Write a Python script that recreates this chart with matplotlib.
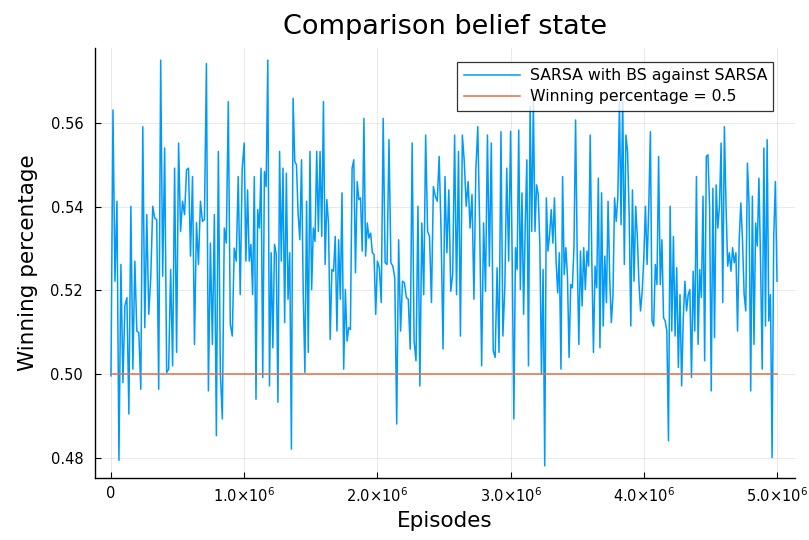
import numpy as np
import matplotlib
matplotlib.use("Agg")
import matplotlib.pyplot as plt

title = "Comparison belief state"
xlabel = "Episodes"
ylabel = "Winning percentage"
series_label = "SARSA with BS against SARSA"
ref_label = "Winning percentage = 0.5"
ref_value = 0.5

# winning percentage, read per million episodes
win_pct_0 = [
    0.4996, 0.5631, 0.5222, 0.5413, 0.4794, 0.5262, 0.4980, 0.5163, 0.5183, 0.4905,
    0.5401, 0.5012, 0.5270, 0.5103, 0.5099, 0.4964, 0.5591, 0.5111, 0.5381, 0.5143,
    0.5230, 0.5401, 0.5373, 0.5369, 0.4964, 0.5750, 0.5234, 0.5540, 0.5004, 0.5012,
    0.5250, 0.5020, 0.5492, 0.5052, 0.5552, 0.5341, 0.5413, 0.5381, 0.5488, 0.5492,
    0.5282, 0.5472, 0.5071, 0.5362, 0.5262, 0.5413, 0.5365, 0.5369, 0.5742, 0.4960,
    0.5313, 0.5071, 0.5381, 0.4853, 0.5532, 0.5004, 0.4893, 0.5349, 0.5313, 0.5651,
    0.5119, 0.5091, 0.5301, 0.5270, 0.5472, 0.5190, 0.5492,
]
win_pct_1 = [
    0.5552, 0.5270, 0.5440, 0.5270, 0.5310, 0.5190, 0.5472, 0.4940, 0.5393, 0.5349,
    0.5492, 0.4992, 0.5484, 0.5448, 0.5750, 0.4972, 0.5290, 0.5063, 0.5310, 0.5286,
    0.4933, 0.5532, 0.5270, 0.5492, 0.5123, 0.5480, 0.5179, 0.5290, 0.4821, 0.5659,
    0.5508, 0.5500, 0.5381, 0.5321, 0.5512, 0.5198, 0.5004, 0.5413, 0.5052, 0.5532,
    0.5202, 0.5349, 0.5317, 0.5532, 0.5341, 0.5532, 0.5329, 0.5651, 0.5262, 0.5417,
    0.5361, 0.5083, 0.5250, 0.5246, 0.5329, 0.5103, 0.5321, 0.5179, 0.5433, 0.5012,
    0.5202, 0.5079, 0.5111, 0.5107, 0.5492, 0.5512, 0.5242, 0.5460, 0.5417, 0.5421,
    0.5294, 0.5611, 0.5282, 0.5361, 0.5325, 0.5337, 0.5290, 0.5286, 0.5143,
]
win_pct_2 = [
    0.5270, 0.5254, 0.5171, 0.5611, 0.5266, 0.5262, 0.5560, 0.5266, 0.5258, 0.5230,
    0.4881, 0.5321, 0.5103, 0.5222, 0.5218, 0.5183, 0.5179, 0.5060, 0.5552, 0.5079,
    0.5032, 0.5401, 0.4972, 0.5361, 0.5190, 0.5571, 0.5341, 0.5329, 0.5171, 0.5448,
    0.5425, 0.5413, 0.5520, 0.5337, 0.5060, 0.5472, 0.5290, 0.5440, 0.5198, 0.5238,
    0.5571, 0.5190, 0.5532, 0.5091, 0.5571, 0.5508, 0.5401, 0.5460, 0.5349, 0.5429,
    0.5179, 0.5488, 0.5591, 0.5349, 0.5020, 0.5361, 0.5198, 0.5571, 0.5258, 0.5552,
    0.5056, 0.5040, 0.5254, 0.5052, 0.5579, 0.5091, 0.5206, 0.5492, 0.5270,
]
win_pct_3 = [
    0.5580, 0.5270, 0.4893, 0.5302, 0.5250, 0.5583, 0.5202, 0.5433, 0.5143, 0.5357,
    0.5512, 0.5020, 0.5640, 0.5341, 0.5650, 0.5341, 0.5452, 0.5429, 0.5310, 0.5000,
    0.5250, 0.4781, 0.5421, 0.5294, 0.5333, 0.5393, 0.5313, 0.5421, 0.5270, 0.5194,
    0.5290, 0.5012, 0.5472, 0.5238, 0.5302, 0.5234, 0.5040, 0.5214, 0.5206, 0.5302,
    0.5607, 0.5286, 0.5071, 0.5294, 0.5163, 0.5302, 0.5202, 0.5294, 0.5258, 0.5571,
    0.5270, 0.5052, 0.5258, 0.5206, 0.5468, 0.5063, 0.5433, 0.5115, 0.5282, 0.5171,
    0.5413, 0.5230, 0.5123, 0.5187, 0.5421, 0.5365, 0.5421, 0.5650, 0.5357, 0.5660,
    0.5262, 0.5571, 0.5532, 0.5377, 0.5115, 0.5440, 0.5222, 0.5401, 0.5329, 0.5218,
    0.5151, 0.5198,
]
win_pct_4 = [
    0.5278, 0.5401, 0.5262, 0.5397, 0.5579, 0.5127, 0.5115, 0.5262, 0.5214, 0.5520,
    0.5214, 0.5321, 0.5135, 0.5127, 0.5103, 0.4841, 0.5401, 0.5103, 0.5329, 0.5091,
    0.5254, 0.5016, 0.5190, 0.4972, 0.5135, 0.5222, 0.5151, 0.5190, 0.5202, 0.4992,
    0.5246, 0.5103, 0.5472, 0.5071, 0.5250, 0.5183, 0.5425, 0.5032, 0.5520, 0.5524,
    0.5401, 0.4960, 0.5444, 0.5087, 0.5452, 0.5349, 0.5401, 0.5552, 0.5171, 0.5591,
    0.5401, 0.5258, 0.5290, 0.5246, 0.5302, 0.5266, 0.5290, 0.5103, 0.5321, 0.5409,
    0.5321, 0.5190, 0.5151, 0.5504, 0.5405, 0.4960, 0.5425, 0.5071, 0.5361, 0.5306,
    0.5468, 0.5266, 0.5012, 0.5540, 0.5115, 0.5560, 0.5127, 0.5190, 0.4801, 0.5329,
    0.5460, 0.5222,
]
segments = [win_pct_0, win_pct_1, win_pct_2, win_pct_3, win_pct_4]
segment_span = 1.0e6

x_ticks = [0, 1.0e6, 2.0e6, 3.0e6, 4.0e6, 5.0e6]
x_tick_labels = ["0", "1.0×10$^6$", "2.0×10$^6$", "3.0×10$^6$", "4.0×10$^6$", "5.0×10$^6$"]
y_ticks = [0.48, 0.50, 0.52, 0.54, 0.56]
y_tick_labels = ["0.48", "0.50", "0.52", "0.54", "0.56"]

ep_parts = []
for k, seg in enumerate(segments):
    last = (k == len(segments) - 1)
    ep_parts.append(k * segment_span + np.linspace(0, segment_span, len(seg), endpoint=last))
episodes = np.concatenate(ep_parts)
win_pct = np.concatenate([np.asarray(s) for s in segments])
ref_line = np.full(len(win_pct), ref_value)

plt.rcParams['font.family'] = ['DejaVu Sans']
fig = plt.figure(figsize=(8.09, 5.40), dpi=100)
ax = fig.add_axes([95/809, 1 - 478/540, 700/809, 430/540])

ax.plot(episodes, win_pct, color="#009AFA", lw=1.1, label=series_label, zorder=3)
ax.plot(episodes, ref_line, color="#E26F46", lw=1.1, label=ref_label, zorder=3)

ax.set_xlim(-0.12e6, 5.135e6)
ax.set_ylim(0.4752, 0.5779)
ax.set_xticks(x_ticks)
ax.set_xticklabels(x_tick_labels)
ax.set_yticks(y_ticks)
ax.set_yticklabels(y_tick_labels)
ax.tick_params(direction="in", length=4, width=0.8, labelsize=10.5, colors="black")
ax.tick_params(axis="x", pad=6)
ax.tick_params(axis="y", pad=8.5)
ax.grid(True, color="black", alpha=0.1, lw=0.6)
ax.set_axisbelow(True)

for s in ["top", "right"]:
    ax.spines[s].set_visible(False)
for s in ["left", "bottom"]:
    ax.spines[s].set_linewidth(1.0)

ax.set_title(title, fontsize=19.5, pad=10)
ax.set_xlabel(xlabel, fontsize=15.5, labelpad=4)
ax.set_ylabel(ylabel, fontsize=15.5, labelpad=9)

leg = ax.legend(loc="upper right", bbox_to_anchor=(0.969, 0.968), borderaxespad=0,
                fontsize=11.3, frameon=True, fancybox=False, edgecolor="black",
                handlelength=3.6, handletextpad=0.6, labelspacing=0.4,
                borderpad=0.4)
leg.get_frame().set_linewidth(0.9)
leg.set_zorder(5)

fig.savefig("out.png", dpi=100)
